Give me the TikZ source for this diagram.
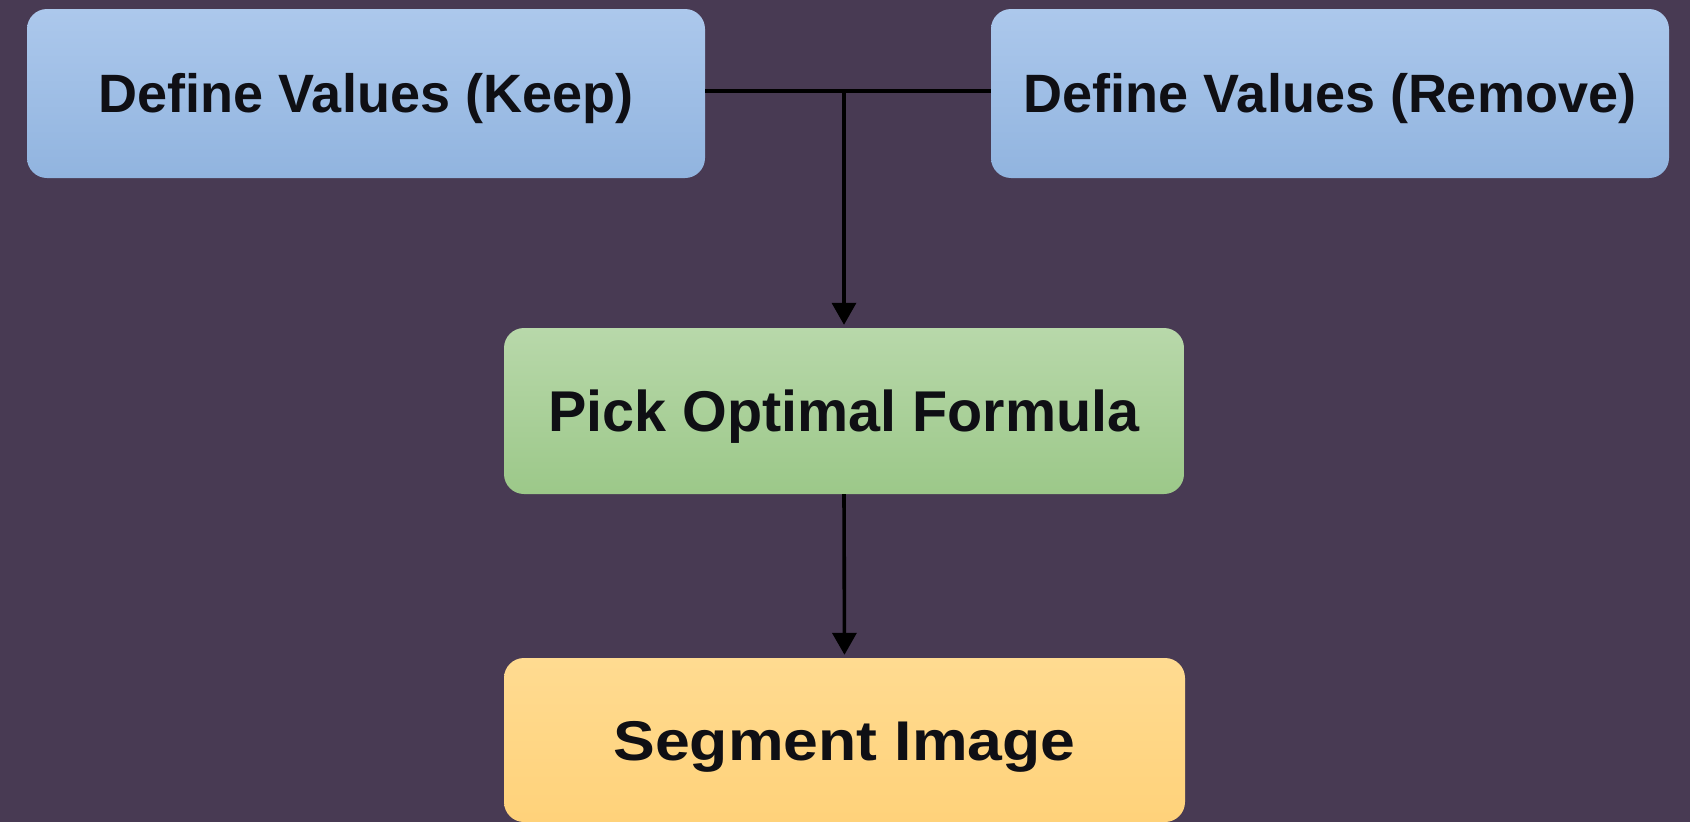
\documentclass[tikz,border=0pt]{standalone}
\usepackage{fontspec}
\usepackage{graphicx}
\setmainfont{Liberation Sans}
\usetikzlibrary{arrows.meta}
\definecolor{bgc}{RGB}{72,58,83}
\definecolor{bluetop}{RGB}{172,200,236}
\definecolor{bluebot}{RGB}{145,180,223}
\definecolor{greentop}{RGB}{184,216,170}
\definecolor{greenbot}{RGB}{156,200,137}
\definecolor{yeltop}{RGB}{255,219,145}
\definecolor{yelbot}{RGB}{255,210,122}
\definecolor{txt}{RGB}{15,15,20}
\tikzset{
  flowbox/.style={rectangle, rounded corners=20pt, inner sep=0pt, draw=none,
    text=txt, align=center, text depth=0pt},
  bluebox/.style={flowbox, top color=bluetop, bottom color=bluebot,
    minimum width=678pt, minimum height=169pt,
    font=\fontsize{54}{60}\selectfont\bfseries, text height=38.7pt},
  greenbox/.style={flowbox, top color=greentop, bottom color=greenbot,
    minimum width=680pt, minimum height=166pt,
    font=\fontsize{57.5}{64}\selectfont\bfseries, text height=41.2pt},
  yelbox/.style={flowbox, top color=yeltop, bottom color=yelbot,
    minimum width=681pt, minimum height=164pt,
    font=\fontsize{56}{62}\selectfont\bfseries, text height=40.1pt},
  conn/.style={draw=black, line width=3.6pt},
  arr/.style={conn, -{Triangle[length=22pt,width=24pt]}, shorten >=3pt}
}
\begin{document}
\begin{tikzpicture}[x=1pt,y=-1pt]
\fill[bgc] (0,0) rectangle (1690,822);
\useasboundingbox (0,0) rectangle (1690,822);
\node[bluebox] (keep) at (366,93.5) {Define Values (Keep)};
\node[bluebox] (remove) at (1330,93.5) {Define Values (Remove)};
\node[greenbox] (pick) at (844,411) {Pick Optimal Formula};
\node[yelbox] (seg) at (844.5,740) {\scalebox{1.117}[1]{Segment Image}};
\coordinate (j) at (844,91);
\draw[conn] (keep.east |- j) -- (remove.west |- j);
\draw[arr] (j) -- (pick.north);
\draw[arr] (pick.south) -- (seg.north);
\end{tikzpicture}
\end{document}
